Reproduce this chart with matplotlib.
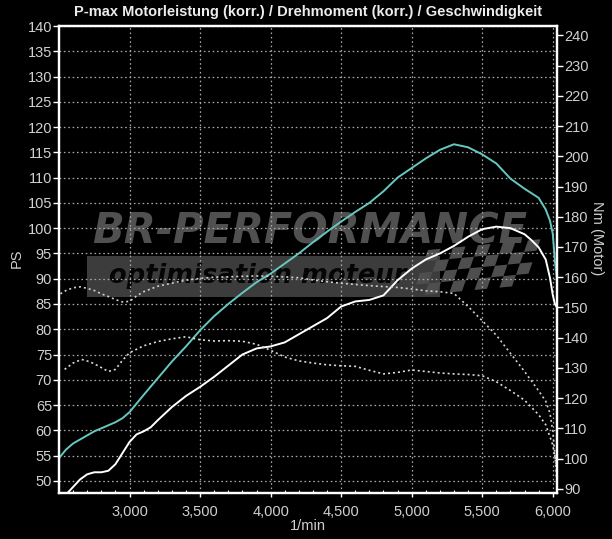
import matplotlib
matplotlib.use("Agg")
import matplotlib.pyplot as plt
from matplotlib.patches import Rectangle, Polygon
from matplotlib.ticker import MultipleLocator

plt.rcParams['font.family'] = ['Liberation Sans', 'DejaVu Sans']

# power (korr.), PS
cyan_rpm = [2500, 2550, 2600, 2650, 2700, 2750, 2800, 2850, 2900, 2950, 3000,
            3100, 3200, 3300, 3400, 3500, 3600, 3700, 3800, 3900, 4000, 4100,
            4200, 4300, 4400, 4500, 4600, 4700, 4800, 4900, 5000, 5100, 5200,
            5300, 5400, 5500, 5600, 5700, 5800, 5900, 5950, 5980, 6000, 6015, 6028]
cyan_ps = [54.5, 56.2, 57.4, 58.2, 59.0, 59.8, 60.4, 61.0, 61.6, 62.4, 63.6,
           67.0, 70.3, 73.6, 76.6, 79.8, 82.6, 85.0, 87.2, 89.3, 91.0, 93.0,
           95.0, 97.2, 99.3, 101.3, 103.2, 105.0, 107.3, 110.0, 111.9, 113.8, 115.5,
           116.6, 116.0, 114.6, 112.8, 109.8, 107.8, 106.0, 103.7, 101.5, 98.9, 93.6, 90.3]

# power, PS (white)
white_rpm = [2560, 2600, 2650, 2700, 2750, 2800, 2850, 2900, 2950, 3000, 3050,
             3100, 3150, 3200, 3300, 3400, 3500, 3600, 3700, 3800, 3900, 4000,
             4100, 4200, 4300, 4400, 4500, 4600, 4700, 4800, 4900, 5000, 5100,
             5200, 5300, 5400, 5500, 5600, 5700, 5800, 5850, 5900, 5950, 5980,
             6000, 6015, 6028]
white_ps = [47.6, 48.8, 50.3, 51.3, 51.7, 51.7, 52.0, 53.3, 55.5, 57.7, 59.2,
            59.8, 60.6, 62.0, 64.6, 66.8, 68.6, 70.6, 72.8, 75.0, 76.2, 76.6,
            77.4, 79.0, 80.6, 82.2, 84.5, 85.5, 85.8, 86.7, 89.7, 92.0, 93.8,
            95.0, 96.5, 98.3, 99.8, 100.3, 100.0, 98.8, 97.6, 96.2, 93.8, 90.2,
            86.8, 85.0, 84.4]

# torque (korr.), Nm
tqk_rpm = [2510, 2550, 2600, 2650, 2700, 2750, 2800, 2850, 2900, 2950, 3000,
           3050, 3100, 3200, 3300, 3400, 3500, 3600, 3700, 3800, 3900, 4000,
           4100, 4200, 4300, 4400, 4500, 4600, 4700, 4800, 4900, 5000, 5100,
           5200, 5300, 5400, 5500, 5600, 5700, 5800, 5900, 5950, 5980, 6000,
           6015, 6028]
tqk_nm = [154.5, 155.6, 156.5, 156.8, 156.3, 155.6, 154.5, 153.6, 152.6, 151.8, 152.0,
          153.8, 155.2, 157.0, 158.0, 159.0, 159.6, 160.0, 160.1, 160.3, 160.4, 160.3,
          160.1, 159.8, 159.1, 158.5, 158.0, 157.6, 157.2, 156.9, 156.6, 156.1, 155.5,
          155.2, 154.6, 150.3, 145.6, 140.8, 134.8, 128.8, 122.4, 119.0, 115.0, 109.0,
          101.5, 93.0]

# torque, Nm
tq_rpm = [2540, 2600, 2660, 2720, 2780, 2850, 2900, 2950, 3000, 3100, 3200,
          3300, 3400, 3500, 3600, 3700, 3800, 3900, 4000, 4100, 4200, 4300,
          4400, 4500, 4600, 4700, 4800, 4900, 5000, 5100, 5200, 5300, 5400,
          5500, 5600, 5700, 5800, 5900, 5950, 6000, 6028]
tq_nm = [129.5, 131.6, 132.8, 132.0, 130.6, 128.8, 129.5, 132.5, 135.0, 137.3, 138.7,
         139.6, 140.3, 139.3, 138.9, 139.0, 138.8, 137.8, 135.8, 133.6, 132.3, 131.6,
         131.0, 130.7, 130.5, 129.2, 128.0, 128.5, 129.3, 128.8, 128.3, 128.0, 127.8,
         127.4, 125.4, 122.5, 119.3, 114.5, 111.2, 104.5, 97.5]

ps_ticks = list(range(50, 141, 5))
nm_ticks = list(range(90, 241, 10))
rpm_ticks = list(range(3000, 6001, 500))

W, H = 612, 539


def px(x, y):
    return x / W, 1 - y / H


fig = plt.figure(figsize=(W / 100, H / 100), dpi=100, facecolor='black')
ax = fig.add_axes([59 / W, 46 / H, (557 - 59) / W, (493 - 26) / H])
ax.set_facecolor('black')
ax.set_xlim(2500, 6030)
ax.set_ylim(47.6, 140)

# watermark logo
ax.add_patch(Rectangle(px(87, 297), (440 - 87) / W, (297 - 256) / H,
                       transform=fig.transFigure, facecolor='#3c3c3c',
                       edgecolor='none', zorder=0.2))
for i in range(9):
    for j in range(4):
        if (i + j) % 2:
            continue
        x0 = 428 + i * 12.5 - j * 4
        y0 = 250 + j * 11.5 - i * 1.2
        pts = [px(x0, y0), px(x0 + 12.5, y0 - 1.2), px(x0 + 8.5, y0 + 10.3),
               px(x0 - 4, y0 + 11.5)]
        ax.add_patch(Polygon(pts, closed=True, transform=fig.transFigure,
                             facecolor='#4e4e4e', edgecolor='none', zorder=0.2))
ax.text(*px(310, 231), 'BR-PERFORMANCE', transform=fig.transFigure,
        ha='center', va='center', fontsize=30, fontweight='bold',
        fontstyle='italic', family='DejaVu Sans', color='#505050', zorder=0.3)
ax.text(*px(258, 276), 'optimisation moteur', transform=fig.transFigure,
        ha='center', va='center', fontsize=18.5, fontweight='bold',
        fontstyle='italic', family='DejaVu Sans', color='#050505', zorder=0.3)

ax.grid(True, color='#a8a8a8', linestyle=(0, (1.3, 2.2)), linewidth=0.9)

ax.plot(cyan_rpm, cyan_ps, color='#66c8c0', linewidth=1.4, zorder=3)
ax.plot(white_rpm, white_ps, color='white', linewidth=1.4, zorder=3)

ax2 = ax.twinx()
ax2.set_ylim(88.6, 243.1)
ax2.plot(tqk_rpm, tqk_nm, color='#cfcfcf', linewidth=1.2,
         linestyle=(0, (1.2, 1.8)))
ax2.plot(tq_rpm, tq_nm, color='#dcdcdc', linewidth=1.2,
         linestyle=(0, (1.2, 1.8)))

ax.set_xticks(rpm_ticks)
ax.set_xticklabels([f"{v:,}" for v in rpm_ticks])
ax.xaxis.set_minor_locator(MultipleLocator(100))
ax.set_yticks(ps_ticks)
ax2.set_yticks(nm_ticks)

for a in (ax, ax2):
    for s in a.spines.values():
        s.set_color('white')
        s.set_linewidth(1.6)

ax.tick_params(axis='y', color='white', labelcolor='#d0d0d0', length=4,
               width=1, pad=1, labelsize=10.5)
ax2.tick_params(axis='y', color='white', labelcolor='#d0d0d0', length=4,
                width=1, pad=1, labelsize=10.5)
ax.tick_params(axis='x', which='major', color='white', labelcolor='#d0d0d0',
               length=3, width=1, pad=6, labelsize=10.5)
ax.tick_params(axis='x', which='minor', color='white', length=2, width=0.8,
               direction='in')

fig.text(*px(308, 12), 'P-max Motorleistung (korr.) / Drehmoment (korr.) / Geschwindigkeit',
         ha='center', va='center', fontsize=10.5, fontweight='bold', color='#ececec')
fig.text(*px(17, 258), 'PS', rotation=90, ha='center', va='center',
         fontsize=10.5, color='#d0d0d0')
fig.text(*px(597, 238), 'Nm (Motor)', rotation=-90, ha='center', va='center',
         fontsize=10.5, color='#d0d0d0')
fig.text(*px(308, 526), '1/min', ha='center', va='center', fontsize=10.5,
         color='#d0d0d0')

fig.savefig('out.png', dpi=100, facecolor='black')
